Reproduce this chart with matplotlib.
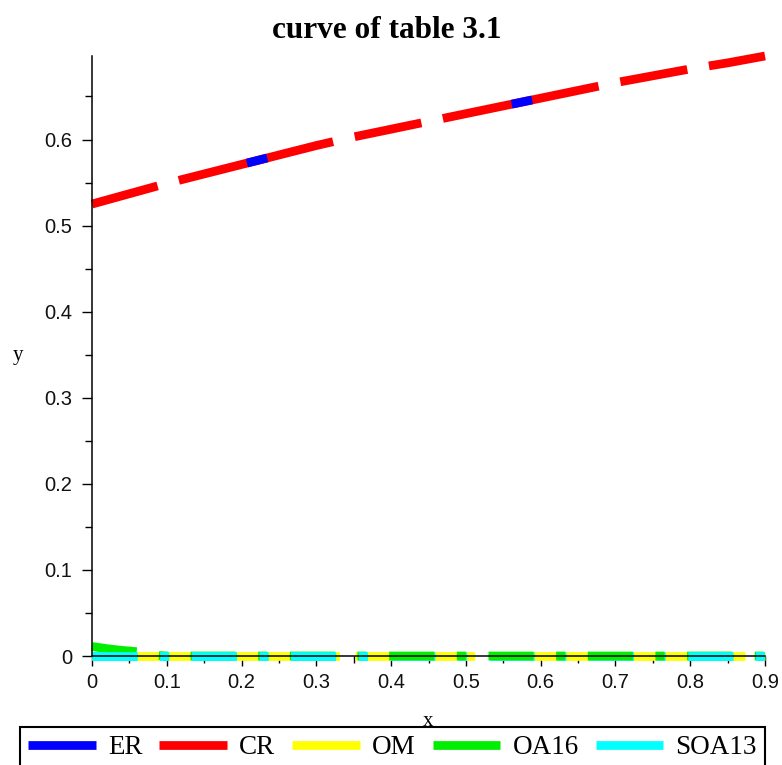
import numpy as np
import matplotlib
matplotlib.use("Agg")
import matplotlib.pyplot as plt
from matplotlib.lines import Line2D
from matplotlib.patches import Rectangle
from matplotlib.ticker import MultipleLocator, FuncFormatter
from matplotlib.font_manager import FontProperties

plt.rcParams['lines.scale_dashes'] = False

# ---------------- data ----------------
x_main = [0, 0.05, 0.1, 0.15, 0.2, 0.25, 0.3, 0.35, 0.4, 0.45,
          0.5, 0.55, 0.6, 0.65, 0.7, 0.75, 0.8, 0.85, 0.9]
ER = [0.525, 0.537, 0.549, 0.560, 0.571, 0.582, 0.593, 0.603, 0.612, 0.621,
      0.630, 0.639, 0.648, 0.657, 0.666, 0.674, 0.682, 0.689, 0.697]
CR = [0.525, 0.537, 0.549, 0.560, 0.571, 0.582, 0.593, 0.603, 0.612, 0.621,
      0.630, 0.639, 0.648, 0.657, 0.666, 0.674, 0.682, 0.689, 0.697]
OM = [0.0] * 19
x_oa = [0, 0.02, 0.04, 0.06, 0.08, 0.1, 0.2, 0.3, 0.4, 0.5, 0.6, 0.7, 0.8, 0.9]
OA16 = [0.011, 0.0085, 0.0065, 0.005, 0.001, 0, 0, 0, 0, 0, 0, 0, 0, 0]
SOA13 = [0.0] * 19

labels = ["ER", "CR", "OM", "OA16", "SOA13"]
colors = ["#0000ff", "#ff0000", "#ffff00", "#00ee00", "#00ffff"]
x_ticks = [0, 0.1, 0.2, 0.3, 0.4, 0.5, 0.6, 0.7, 0.8, 0.9]
y_ticks = [0, 0.1, 0.2, 0.3, 0.4, 0.5, 0.6]

# ---------------- figure ----------------
W, H = 782, 765
fig = plt.figure(figsize=(W / 100, H / 100), dpi=100)
ax = fig.add_axes([92 / W, 1 - 656 / H, 673 / W, 600 / H])
ax.set_xlim(0, 0.9)
ax.set_ylim(0, 0.697)

lw = 6.3
dash_red = (0, (49.0, 15.8, 114.5, 16.0))
dash_blue = (79.9, (15.1, 180.2))
dash_yel = (5.1, (86.0, 11.3))
dash_gc = (0, (32.4, 16.3, 6.5, 16.3))

ax.plot(x_main, CR, color=colors[1], lw=lw, linestyle=dash_red,
        solid_capstyle='butt', dash_capstyle='butt', clip_on=False, zorder=2.0)
ax.plot(x_main, ER, color=colors[0], lw=lw, linestyle=dash_blue,
        dash_capstyle='butt', clip_on=False, zorder=2.1)
ax.plot(x_main, OM, color=colors[2], lw=lw, linestyle=dash_yel,
        dash_capstyle='butt', clip_on=False, zorder=2.2)
ax.plot(x_main, SOA13, color=colors[4], lw=lw, linestyle=dash_gc,
        dash_capstyle='butt', clip_on=False, zorder=2.25)
ax.plot(x_oa, OA16, color=colors[3], lw=lw, linestyle=dash_gc,
        dash_capstyle='butt', clip_on=False, zorder=2.3)
# cyan drawn on top in the outer ranges
for (x0, x1) in [(-0.05, 0.38), (0.78, 0.95)]:
    ln, = ax.plot(x_main, SOA13, color=colors[4], lw=lw, linestyle=dash_gc,
                  dash_capstyle='butt', zorder=2.35)
    rect = Rectangle((x0, -0.05), x1 - x0, 0.1, transform=ax.transData)
    ln.set_clip_path(rect)

# spines
for s in ['top', 'right']:
    ax.spines[s].set_visible(False)
for s in ['left', 'bottom']:
    ax.spines[s].set_linewidth(1.1)
    ax.spines[s].set_color('black')
    ax.spines[s].set_zorder(3)

ax.set_xticks(x_ticks)
ax.set_yticks(y_ticks)
ax.xaxis.set_minor_locator(MultipleLocator(0.05))
ax.yaxis.set_minor_locator(MultipleLocator(0.05))
fmt = FuncFormatter(lambda v, p: "0" if abs(v) < 1e-9 else ("%g" % round(v, 2)))
ax.xaxis.set_major_formatter(fmt)
ax.yaxis.set_major_formatter(fmt)
ax.tick_params(which='major', direction='out', length=7.2, width=1.0, color='black')
ax.tick_params(which='minor', direction='out', length=4.8, width=1.0, color='black')
ax.tick_params(axis='x', which='major', pad=5)
ax.tick_params(axis='y', which='major', pad=7)
for lab in ax.get_xticklabels() + ax.get_yticklabels():
    lab.set_fontfamily('Liberation Sans')
    lab.set_fontsize(14.5)
    lab.set_color('#111111')

ax.set_xlabel('x', fontfamily='Liberation Serif', fontsize=15)
ax.xaxis.set_label_coords(0.5, -0.093)
ax.xaxis.label.set_va('top')
ax.set_ylabel('y', fontfamily='Liberation Serif', fontsize=15, rotation=0,
              ha='center', va='center')
ax.yaxis.set_label_coords((18 - 92) / 673, 0.5)

fig.text(386.5 / W, 1 - 38 / H, 'curve of table 3.1', ha='center', va='baseline',
         fontfamily='Liberation Serif', fontweight='bold', fontsize=22.5)

handles = [Line2D([], [], color=c, lw=lw, solid_capstyle='butt') for c in colors]
leg = fig.legend(handles, labels, loc='upper left',
                 bbox_to_anchor=(20 / W, 1 - 727 / H), ncol=5,
                 frameon=True, fancybox=False, edgecolor='black',
                 handlelength=2.5, handletextpad=0.45, columnspacing=0.62,
                 borderpad=0.3, borderaxespad=0,
                 prop=FontProperties(family='Liberation Serif', size=19.5))
leg.get_frame().set_linewidth(1.5)
leg.get_frame().set_alpha(1)

fig.savefig('out.png', dpi=100)
